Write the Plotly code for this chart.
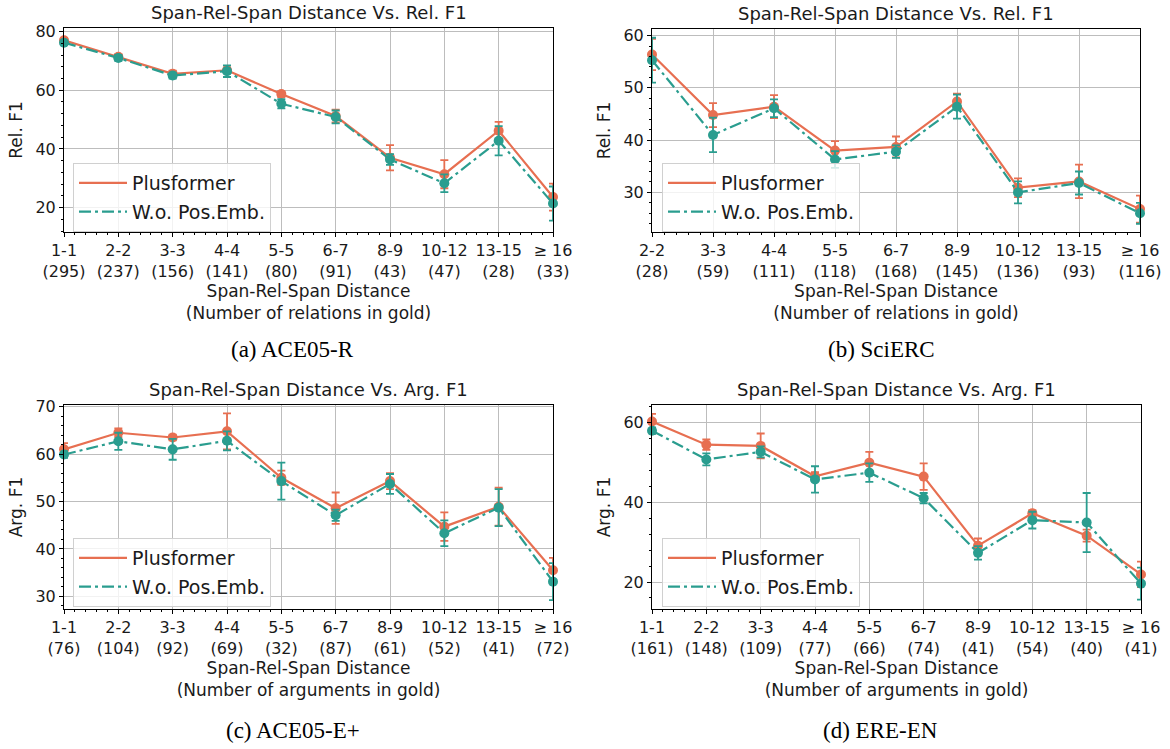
import plotly.graph_objects as go

# ---------------- data ----------------
cats_a = ["1-1", "2-2", "3-3", "4-4", "5-5", "6-7", "8-9", "10-12", "13-15", "≥ 16"]
counts_a = [295, 237, 156, 141, 80, 91, 43, 47, 28, 33]
plus_a = [77.0, 71.4, 65.6, 66.8, 58.7, 51.2, 37.0, 31.4, 46.2, 23.6]
plus_a_err = [0.8, 0.8, 1.1, 1.0, 1.0, 2.2, 4.3, 4.8, 3.0, 4.6]
wo_a = [76.2, 71.0, 65.0, 66.5, 55.4, 50.9, 36.4, 28.3, 42.8, 21.4]
wo_a_err = [0.8, 1.0, 1.0, 2.0, 1.6, 2.2, 1.8, 3.0, 5.0, 5.8]

cats_b = ["2-2", "3-3", "4-4", "5-5", "6-7", "8-9", "10-12", "13-15", "≥ 16"]
counts_b = [28, 59, 111, 118, 168, 145, 136, 93, 116]
plus_b = [56.4, 44.8, 46.4, 38.0, 38.7, 47.4, 30.9, 32.1, 26.8]
plus_b_err = [3.0, 2.3, 2.2, 1.8, 2.0, 1.5, 1.8, 3.2, 2.6]
wo_b = [55.3, 41.0, 46.1, 36.3, 37.8, 46.4, 30.0, 31.8, 26.0]
wo_b_err = [4.3, 3.3, 1.7, 1.6, 1.2, 2.3, 2.1, 2.2, 2.0]

cats_c = ["1-1", "2-2", "3-3", "4-4", "5-5", "6-7", "8-9", "10-12", "13-15", "≥ 16"]
counts_c = [76, 104, 92, 69, 32, 87, 61, 52, 41, 72]
plus_c = [61.0, 64.5, 63.5, 64.8, 55.0, 48.6, 54.3, 44.7, 48.9, 35.5]
plus_c_err = [1.3, 0.9, 0.6, 3.8, 1.5, 3.3, 1.7, 3.0, 4.0, 2.6]
wo_c = [59.9, 62.7, 61.0, 62.8, 54.3, 47.1, 53.7, 43.3, 48.7, 33.1]
wo_c_err = [0.7, 1.8, 2.2, 2.0, 3.9, 1.2, 2.1, 2.7, 3.9, 3.9]

cats_d = ["1-1", "2-2", "3-3", "4-4", "5-5", "6-7", "8-9", "10-12", "13-15", "≥ 16"]
counts_d = [161, 148, 109, 77, 66, 74, 41, 54, 40, 41]
plus_d = [60.2, 54.4, 54.1, 46.5, 49.9, 46.4, 29.1, 37.2, 31.6, 21.9]
plus_d_err = [1.9, 1.3, 3.1, 1.0, 2.7, 3.3, 1.8, 0.8, 1.5, 3.2]
wo_d = [57.9, 50.7, 52.6, 45.7, 47.4, 41.0, 27.3, 35.5, 34.9, 19.6]
wo_d_err = [0.8, 1.5, 1.4, 3.3, 2.3, 1.3, 1.7, 2.1, 7.4, 4.0]

series_names = ["Plusformer", "W.o. Pos.Emb."]
titles = ["Span-Rel-Span Distance Vs. Rel. F1", "Span-Rel-Span Distance Vs. Rel. F1",
          "Span-Rel-Span Distance Vs. Arg. F1", "Span-Rel-Span Distance Vs. Arg. F1"]
ylabels = ["Rel. F1", "Rel. F1", "Arg. F1", "Arg. F1"]
xlabels = ["Span-Rel-Span Distance<br>(Number of relations in gold)",
           "Span-Rel-Span Distance<br>(Number of relations in gold)",
           "Span-Rel-Span Distance<br>(Number of arguments in gold)",
           "Span-Rel-Span Distance<br>(Number of arguments in gold)"]
captions = ["(a) ACE05-R", "(b) SciERC", "(c) ACE05-E+", "(d) ERE-EN"]

# ---------------- style ----------------
W, H = 1170, 749
ORANGE = "#E76F51"
TEAL = "#2A9D8F"
FONT = "DejaVu Sans"
TXT = "#1a1a1a"
DASHDOT = "12px,4px,3px,4px"

panels = [
    dict(cats=cats_a, counts=counts_a, p=plus_a, pe=plus_a_err, w=wo_a, we=wo_a_err,
         box=(64, 553, 28, 232), yr=(11.7, 81.2), ydt=20, ymin=4, leg=(73, 163)),
    dict(cats=cats_b, counts=counts_b, p=plus_b, pe=plus_b_err, w=wo_b, we=wo_b_err,
         box=(652, 1140, 29, 232), yr=(22.42, 61.27), ydt=10, ymin=2, leg=(662, 163)),
    dict(cats=cats_c, counts=counts_c, p=plus_c, pe=plus_c_err, w=wo_c, we=wo_c_err,
         box=(64, 553, 405, 609), yr=(27.33, 70.35), ydt=10, ymin=2, leg=(73, 538)),
    dict(cats=cats_d, counts=counts_d, p=plus_d, pe=plus_d_err, w=wo_d, we=wo_d_err,
         box=(652, 1141, 405, 609), yr=(13.24, 64.34), ydt=20, ymin=4, leg=(662, 538)),
]
caption_pos = [(292, 349), (881, 349), (293, 730), (880, 730)]

fig = go.Figure()
layout = dict(width=W, height=H, margin=dict(l=0, r=0, t=0, b=0, autoexpand=False),
              paper_bgcolor="white", plot_bgcolor="white",
              font=dict(family=FONT, color=TXT), annotations=[])

for i, pn in enumerate(panels):
    k = "" if i == 0 else str(i + 1)
    xa, ya = "x" + k, "y" + k
    leg = "legend" + k
    x0, x1, y0, y1 = pn["box"]
    idx = list(range(len(pn["cats"])))
    ticktext = [f"{c}<br>({n})" for c, n in zip(pn["cats"], pn["counts"])]

    for vals, errs, col, dash in [(pn["p"], pn["pe"], ORANGE, "solid"),
                                  (pn["w"], pn["we"], TEAL, DASHDOT)]:
        fig.add_trace(go.Scatter(
            x=idx, y=vals, xaxis=xa, yaxis=ya, mode="lines+markers",
            line=dict(color=col, width=2.2, dash=dash),
            marker=dict(color=col, size=10),
            error_y=dict(type="data", array=errs, visible=True, color=col,
                         thickness=1.8, width=4),
            showlegend=False, cliponaxis=False))
    for j, (name, col, dash) in enumerate([(series_names[0], ORANGE, "solid"),
                                           (series_names[1], TEAL, DASHDOT)]):
        fig.add_trace(go.Scatter(
            x=[None], y=[None], xaxis=xa, yaxis=ya, mode="lines", name=name,
            line=dict(color=col, width=2.2, dash=dash), legend=leg,
            legendgroup=f"g{i}{j}", showlegend=True))

    layout["xaxis" + k] = dict(
        domain=[x0 / W, x1 / W], anchor=ya, range=[0, len(idx) - 1],
        automargin=False,
        tickmode="array", tickvals=idx, ticktext=ticktext,
        tickfont=dict(size=16, family=FONT, color=TXT),
        ticks="outside", ticklen=4, tickcolor="black",
        showgrid=True, gridcolor="#bdbdbd", gridwidth=1,
        showline=True, linecolor="black", linewidth=1, mirror=True,
        zeroline=False,
        minor=dict(ticks="outside", ticklen=2, tickcolor="black", dtick=0.2,
                   tick0=0, showgrid=False),
        title=dict(text=xlabels[i], font=dict(size=17, family=FONT, color=TXT),
                   standoff=4))
    layout["yaxis" + k] = dict(
        domain=[1 - y1 / H, 1 - y0 / H], anchor=xa, range=list(pn["yr"]),
        automargin=False,
        dtick=pn["ydt"], tick0=0,
        tickfont=dict(size=16, family=FONT, color=TXT),
        ticks="outside", ticklen=4, tickcolor="black",
        showgrid=True, gridcolor="#bdbdbd", gridwidth=1,
        showline=True, linecolor="black", linewidth=1, mirror=True,
        zeroline=False,
        minor=dict(ticks="outside", ticklen=2, tickcolor="black", dtick=pn["ymin"],
                   tick0=0, showgrid=False),
        title=dict(text=ylabels[i], font=dict(size=17, family=FONT, color=TXT),
                   standoff=8))
    lx, ly = pn["leg"]
    layout[leg] = dict(
        x=lx / W, y=1 - ly / H, xanchor="left", yanchor="top",
        bgcolor="rgba(255,255,255,0.8)", bordercolor="#d0d0d0", borderwidth=1,
        font=dict(size=19, family=FONT, color=TXT),
        tracegroupgap=1, itemwidth=48)
    layout["annotations"].append(dict(
        text=titles[i], x=(x0 + x1) / 2 / W, y=1 - (y0 - 3) / H,
        xref="paper", yref="paper", xanchor="center", yanchor="bottom",
        showarrow=False, font=dict(size=18, family=FONT, color=TXT)))
    cx, cy = caption_pos[i]
    layout["annotations"].append(dict(
        text=captions[i], x=cx / W, y=1 - cy / H, xref="paper", yref="paper",
        xanchor="center", yanchor="middle", showarrow=False,
        font=dict(size=23, family="Liberation Serif", color="black")))

fig.update_layout(**layout)
fig.write_html("out.html", config={"displayModeBar": False},
               post_script="document.body.style.margin='0';document.body.style.overflow='hidden';")
